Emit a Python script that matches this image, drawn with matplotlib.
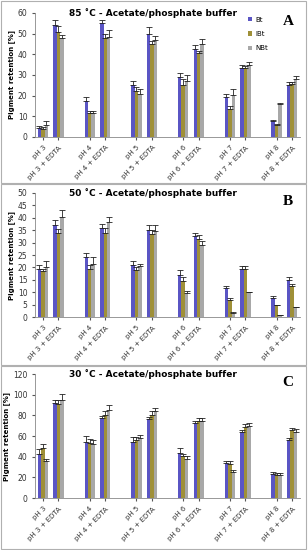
import numpy as np
import matplotlib.pyplot as plt
from matplotlib.patches import Rectangle

labels = ["pH 3", "pH 3 + EDTA", "pH 4", "pH 4 + EDTA", "pH 5", "pH 5 + EDTA",
          "pH 6", "pH 6 + EDTA", "pH 7", "pH 7 + EDTA", "pH 8", "pH 8 + EDTA"]
series = ["Bt", "IBt", "NBt"]

# 85 C
bt85 = [4.5, 54, 17.5, 55, 25, 50, 29, 42.5, 19.5, 33.5, 7.5, 25]
ibt85 = [4, 51, 11.5, 48, 22, 45, 25, 40.5, 13.5, 33.5, 6, 25.5]
nbt85 = [6, 48, 11.5, 48.5, 21, 47, 27, 45, 20.5, 35, 16, 28]
bt85_err = [1, 2.5, 2, 1.5, 2, 3, 2, 2, 1.5, 1.5, 0.5, 1.5]
ibt85_err = [1, 2.5, 1, 2, 2, 1.5, 3, 1, 1.5, 1, 0.5, 1]
nbt85_err = [1.5, 1.5, 1, 3, 2, 2, 3, 2.5, 2.5, 1.5, 0.5, 1.5]

# 50 C
bt50 = [19.5, 37, 24, 36, 21, 35, 17, 32.5, 11.5, 19.5, 7.5, 15]
ibt50 = [18.5, 34, 19.5, 34, 19, 33.5, 14.5, 31.5, 7, 19.5, 5, 12.5]
nbt50 = [20, 40.5, 21.5, 38.5, 20.5, 34.5, 9.5, 29, 1.5, 10, 0.7, 4]
bt50_err = [1.5, 2, 2, 1.5, 1.5, 2, 2, 1.5, 1, 1, 1, 1]
ibt50_err = [1, 1.5, 1.5, 2, 1, 1.5, 1.5, 1.5, 0.5, 1, 0, 1]
nbt50_err = [2.5, 2.5, 2.5, 2, 1, 2.5, 1, 1.5, 0.5, 0, 0, 0]

# 30 C
bt30 = [42.5, 92, 54, 77, 54, 76, 44, 73, 34, 64, 23, 56]
ibt30 = [48, 91, 53, 80, 56, 80, 41, 75, 33, 69, 22, 66]
nbt30 = [36, 95, 52, 85, 58, 84, 38, 75, 25, 70, 22, 64]
bt30_err = [5, 3, 6, 2, 5, 2, 4, 2, 2, 2, 2, 2]
ibt30_err = [4, 4, 4, 4, 3, 4, 2, 2, 3, 3, 2, 2]
nbt30_err = [2, 6, 4, 5, 3, 3, 3, 2, 2, 3, 2, 3]

colors = ["#5A55C4", "#9F9038", "#A8A8A8"]

panels = [
    ("85 ˚C - Acetate/phosphate buffer", "A", [bt85, ibt85, nbt85], [bt85_err, ibt85_err, nbt85_err], 60, 10, 0.751),
    ("50 ˚C - Acetate/phosphate buffer", "B", [bt50, ibt50, nbt50], [bt50_err, ibt50_err, nbt50_err], 50, 5, 0.4236),
    ("30 ˚C - Acetate/phosphate buffer", "C", [bt30, ibt30, nbt30], [bt30_err, ibt30_err, nbt30_err], 120, 20, 0.0945),
]

# positions: pairs with a blank slot between them
pos = []
for p in range(6):
    pos += [3 * p, 3 * p + 1]
pos = np.array(pos)

fig = plt.figure(figsize=(3.08, 5.5), dpi=100)

# panel frames
for y0, h in [(1 - 183 / 550, 182 / 550), (1 - 365 / 550, 181 / 550), (0.002, 183 / 550)]:
    fig.patches.append(Rectangle((0.003, y0), 0.992, h, transform=fig.transFigure,
                                 fill=False, edgecolor="#b0b0b0", linewidth=0.8))

w = 0.22
for title, letter, vals, errs, ymax, ystep, bottom in panels:
    ax = fig.add_axes([0.114, bottom, 0.86, 0.2255])
    for k in range(3):
        v = np.array(vals[k])
        e = np.array(errs[k])
        ax.bar(pos + (k - 1) * w, v, w, color=colors[k], label=series[k],
               yerr=[np.zeros_like(e), e], error_kw=dict(ecolor="#222222", elinewidth=0.6,
                                                         capsize=2, capthick=0.6))
    ax.set_xlim(-0.5, 16.5)
    ax.set_ylim(0, ymax)
    ax.set_yticks(np.arange(0, ymax + 1, ystep))
    ax.set_xticks(pos)
    ax.set_xticklabels(labels, rotation=45, ha="right", rotation_mode="anchor", fontsize=5)
    ax.tick_params(axis="y", labelsize=5.5, length=2, colors="#555555", labelcolor="#333333")
    ax.tick_params(axis="x", length=2, colors="#555555", labelcolor="#333333")
    for s in ["top", "right"]:
        ax.spines[s].set_visible(False)
    for s in ["left", "bottom"]:
        ax.spines[s].set_color("#888888")
        ax.spines[s].set_linewidth(0.6)
    ax.set_ylabel("Pigment retention [%]", fontsize=5, fontweight="bold", labelpad=2)
    ax.text(0.445, 1.0, title, transform=ax.transAxes, ha="center", va="center",
            fontsize=6.5, fontweight="bold")
    ax.text(0.975, 0.98, letter, transform=ax.transAxes, ha="right", va="top",
            fontsize=11, fontweight="bold", family="Liberation Serif")
    if letter == "A":
        ax.legend(loc="upper left", bbox_to_anchor=(0.78, 1.02), fontsize=5, frameon=False,
                  handlelength=0.6, handleheight=0.6, labelspacing=1.2, handletextpad=0.5)

plt.savefig("out.png", dpi=100)
